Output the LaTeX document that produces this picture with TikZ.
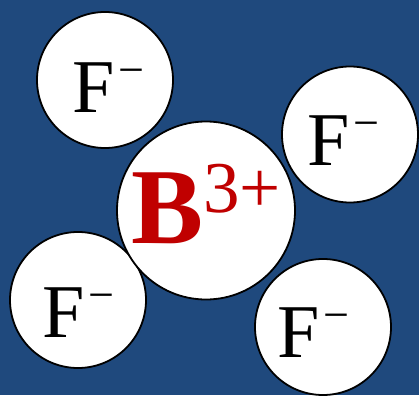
\documentclass[tikz,border=0pt]{standalone}
\usepackage{fontspec}
\setmainfont{Liberation Serif}
\usetikzlibrary{positioning}
\definecolor{cbg}{HTML}{1F497D}
\definecolor{cred}{HTML}{C00000}
\tikzset{
  ion/.style={circle, draw=black, fill=white, line width=1.8pt, inner sep=0pt, minimum size=#1},
  ion/.default=136pt,
  sym/.style={anchor=base west, inner sep=0pt, outer sep=0pt},
}
\newcommand{\anion}{\fontsize{76}{76}\selectfont F\kern 4pt\raisebox{27pt}{\fontsize{46}{46}\selectfont −}}
\newcommand{\cation}{\fontsize{108}{108}\selectfont\bfseries B\kern 0pt\raisebox{31pt}{\fontsize{73}{73}\selectfont\mdseries 3+}}

\begin{document}
\begin{tikzpicture}[x=1pt, y=-1pt]
  \fill[cbg] (0,0) rectangle (419,395);
  \useasboundingbox (0,0) rectangle (419,395);

  % fluoride ions
  \node[ion] (f1) at (105,80) {};
  \node[ion] (f2) at (350,134.5) {};
  \node[ion] (f3) at (78,300) {};
  \node[ion] (f4) at (323,327) {};
  \node[sym] (f1t) at (72,113) {\anion};
  \node[sym] (f2t) at (307,165) {\anion};
  \node[sym] (f3t) at (42,337) {\anion};
  \node[sym] (f4t) at (277,357) {\anion};

  % boron ion
  \node[ion=178pt] (b) at (206,210.5) {};
  \node[sym, text=cred] (bt) at (131,243) {\cation};
\end{tikzpicture}
\end{document}
